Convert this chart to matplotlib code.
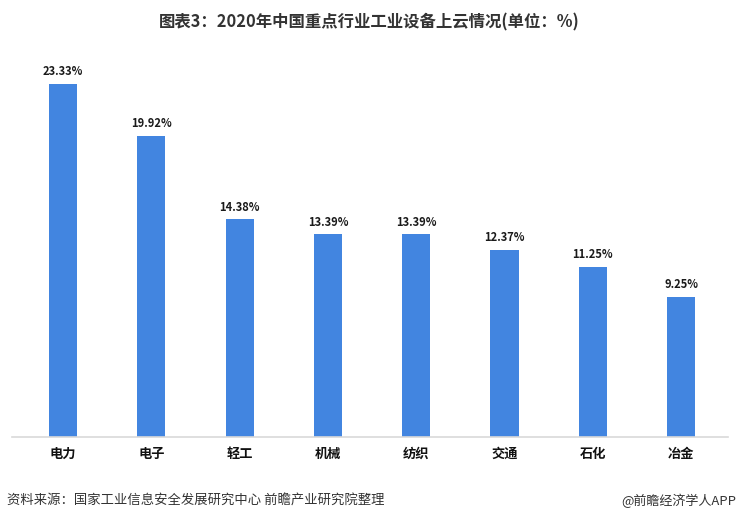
import matplotlib.pyplot as plt

plt.rcParams['font.family'] = ['Noto Sans CJK SC', 'DejaVu Sans']

# data
categories = ['电力', '电子', '轻工', '机械', '纺织', '交通', '石化', '冶金']
values = [23.33, 19.92, 14.38, 13.39, 13.39, 12.37, 11.25, 9.25]
value_labels = ['23.33%', '19.92%', '14.38%', '13.39%', '13.39%', '12.37%', '11.25%', '9.25%']

W, H = 739, 523
fig = plt.figure(figsize=(W / 100, H / 100), dpi=100)

# axes placed in pixel terms: baseline at y=437, plot from x=12 to x=728
left, right, bottom, top = 12, 728, 437, 60
ax = fig.add_axes([left / W, 1 - bottom / H, (right - left) / W, (bottom - top) / H])

x = range(len(categories))
ax.bar(x, values, width=0.32, color='#4285E0', zorder=2)

for i, v in enumerate(values):
    ax.annotate(value_labels[i], (i, v), xytext=(0, 4), textcoords='offset points',
                ha='center', va='bottom', fontsize=8, fontweight='bold', color='#1a1a1a')

ax.set_xlim(-0.578, 7.53)
ax.set_ylim(0, (bottom - top) / 15.13)
ax.set_xticks(list(x))
ax.set_xticklabels(categories, fontsize=9.5, fontweight='bold', color='#111111')
ax.tick_params(axis='x', length=0, pad=7)
ax.set_yticks([])
for s in ['top', 'right', 'left']:
    ax.spines[s].set_visible(False)
ax.spines['bottom'].set_color('#D9D9D9')
ax.spines['bottom'].set_linewidth(1.2)

fig.text(369 / W, 1 - 22 / H, '图表3：2020年中国重点行业工业设备上云情况(单位：%)',
         ha='center', va='center', fontsize=11.8, fontweight='bold', color='#333333')
fig.text(7 / W, 1 - 501 / H, '资料来源：国家工业信息安全发展研究中心 前瞻产业研究院整理',
         ha='left', va='center', fontsize=9.6, color='#333333')
fig.text(736 / W, 1 - 501 / H, '@前瞻经济学人APP',
         ha='right', va='center', fontsize=9.4, color='#333333')

fig.savefig('out.png', dpi=100)
